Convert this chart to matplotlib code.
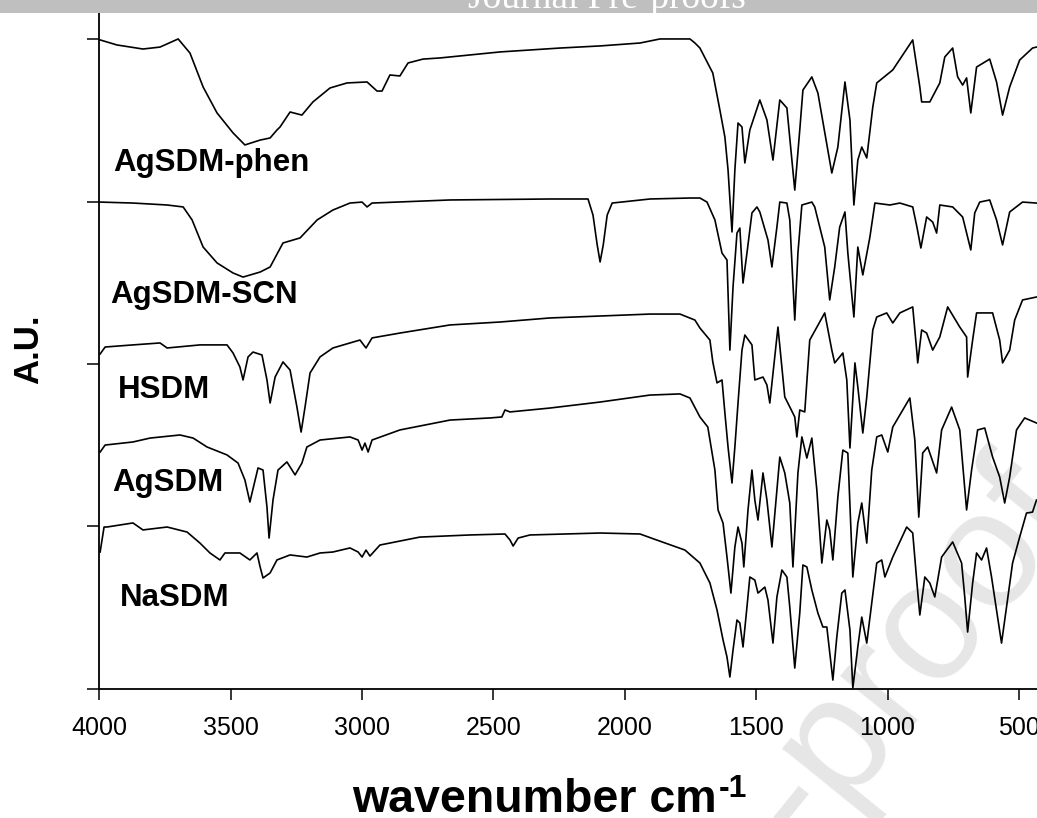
import numpy as np
import matplotlib
matplotlib.use("Agg")
import matplotlib.pyplot as plt
from matplotlib.patches import Rectangle

plt.rcParams['font.family'] = ['Liberation Sans', 'DejaVu Sans']

# FTIR spectra (wavenumber cm-1, stacked arbitrary units)
phen_wn = [3997, 3933, 3834, 3769, 3700, 3655, 3605, 3552, 3491, 3446, 3388, 3350, 3324, 3312,
           3274, 3229, 3187, 3122, 3057, 2981, 2943, 2924, 2894, 2856, 2825, 2768, 2703, 2475,
           2247, 2094, 1942, 1866, 1752, 1733, 1714, 1665, 1638, 1619, 1607, 1592, 1581, 1569,
           1554, 1543, 1524, 1486, 1459, 1436, 1410, 1383, 1353, 1334, 1322, 1288, 1265, 1212,
           1189, 1162, 1143, 1128, 1113, 1098, 1079, 1056, 1041, 980, 904, 877, 870, 839, 801,
           782, 752, 733, 714, 699, 683, 661, 611, 585, 562, 535, 497, 448, 433]
phen_au = [3.996, 3.965, 3.94, 3.952, 4.002, 3.915, 3.706, 3.546, 3.423, 3.349, 3.379, 3.392, 3.441, 3.46,
           3.552, 3.533, 3.614, 3.70, 3.731, 3.737, 3.681, 3.681, 3.78, 3.774, 3.854, 3.878, 3.885, 3.922,
           3.946, 3.959, 3.977, 4.002, 4.002, 3.977, 3.946, 3.792, 3.564, 3.398, 3.195, 2.813, 3.195, 3.484,
           3.46, 3.238, 3.441, 3.626, 3.503, 3.256, 3.626, 3.577, 3.071, 3.441, 3.687, 3.768, 3.669, 3.176,
           3.336, 3.737, 3.503, 2.979, 3.256, 3.336, 3.269, 3.583, 3.731, 3.811, 3.996, 3.706, 3.614, 3.614, 3.731,
           3.891, 3.946, 3.768, 3.718, 3.762, 3.546, 3.829, 3.878, 3.737, 3.533, 3.706, 3.872, 3.946, 3.952]

scn_wn = [3997, 3872, 3742, 3681, 3647, 3605, 3552, 3491, 3453, 3388, 3350, 3301, 3236, 3171, 3111,
          3046, 3000, 2981, 2962, 2665, 2285, 2140, 2121, 2105, 2094, 2082, 2067, 2048, 1904, 1752,
          1714, 1687, 1657, 1630, 1611, 1600, 1588, 1573, 1562, 1550, 1535, 1516, 1497, 1486, 1455,
          1440, 1421, 1410, 1383, 1372, 1353, 1341, 1326, 1288, 1277, 1239, 1220, 1201, 1182, 1162,
          1151, 1128, 1113, 1094, 1067, 1048, 991, 953, 904, 888, 873, 851, 828, 813, 801, 752, 714,
          683, 668, 649, 611, 585, 562, 535, 486, 433]
scn_au = [2.997, 2.991, 2.979, 2.967, 2.887, 2.72, 2.622, 2.56, 2.535, 2.566, 2.597, 2.745, 2.776, 2.887, 2.948,
          2.991, 2.997, 2.967, 2.991, 3.01, 3.016, 3.016, 2.917, 2.733, 2.628, 2.733, 2.917, 2.991, 3.016, 3.022,
          3.022, 2.997, 2.887, 2.683, 2.64, 2.085, 2.474, 2.806, 2.837, 2.498, 2.683, 2.93, 2.967, 2.936, 2.763,
          2.597, 2.843, 2.997, 2.991, 2.887, 2.27, 2.683, 2.979, 2.997, 2.967, 2.72, 2.394, 2.597, 2.843, 2.936,
          2.683, 2.289, 2.72, 2.548, 2.782, 2.991, 2.979, 2.991, 2.967, 2.843, 2.714, 2.905, 2.874, 2.806, 2.979,
          2.967, 2.905, 2.702, 2.93, 2.997, 3.01, 2.887, 2.733, 2.936, 2.997, 2.991]

hsdm_wn = [3997, 3978, 3872, 3769, 3742, 3617, 3514, 3491, 3465, 3453, 3434, 3415, 3381, 3362, 3350,
           3331, 3301, 3274, 3248, 3232, 3217, 3198, 3160, 3111, 3046, 3008, 2985, 2962, 2856, 2665,
           2475, 2285, 2094, 1904, 1790, 1733, 1714, 1676, 1665, 1649, 1630, 1619, 1607, 1592, 1581,
           1569, 1554, 1543, 1516, 1505, 1474, 1459, 1448, 1417, 1391, 1372, 1353, 1345, 1334, 1315,
           1296, 1239, 1212, 1201, 1170, 1155, 1143, 1124, 1113, 1094, 1079, 1056, 1041, 1003, 980,
           953, 904, 888, 885, 870, 851, 828, 801, 771, 725, 699, 695, 676, 661, 600, 573, 562, 535,
           516, 486, 433]
hsdm_au = [2.061, 2.104, 2.117, 2.129, 2.098, 2.117, 2.117, 2.067, 1.981, 1.901, 2.043, 2.073, 2.055, 1.901, 1.759,
           1.919, 2.012, 1.962, 1.735, 1.58, 1.735, 1.944, 2.043, 2.098, 2.129, 2.147, 2.098, 2.16, 2.19, 2.24,
           2.258, 2.283, 2.295, 2.307, 2.307, 2.27, 2.221, 2.147, 2.012, 1.883, 1.901, 1.698, 1.488, 1.266, 1.488,
           1.759, 2.085, 2.178, 2.117, 1.901, 1.919, 1.87, 1.759, 2.227, 1.796, 1.735, 1.673, 1.55, 1.716, 1.704,
           2.147, 2.314, 2.085, 2.006, 2.067, 1.901, 1.482, 2.006, 1.858, 1.574, 1.796, 2.209, 2.289, 2.314, 2.252,
           2.314, 2.351, 2.067, 2.006, 2.209, 2.19, 2.085, 2.166, 2.351, 2.227, 2.166, 1.919, 2.147, 2.314, 2.314,
           2.147, 2.006, 2.085, 2.27, 2.394, 2.412]

agsdm_wn = [3997, 3978, 3872, 3807, 3693, 3643, 3590, 3514, 3472, 3446, 3427, 3407, 3396, 3377, 3362,
            3354, 3339, 3320, 3286, 3255, 3229, 3210, 3160, 3046, 3015, 3000, 2989, 2977, 2962, 2856,
            2665, 2513, 2468, 2456, 2437, 2285, 2094, 1904, 1790, 1752, 1714, 1684, 1657, 1645, 1626,
            1611, 1596, 1581, 1569, 1554, 1547, 1531, 1516, 1505, 1493, 1474, 1459, 1440, 1410, 1391,
            1372, 1360, 1341, 1326, 1307, 1288, 1269, 1250, 1231, 1220, 1208, 1189, 1170, 1151, 1132,
            1113, 1098, 1079, 1060, 1041, 1022, 999, 980, 915, 896, 881, 866, 847, 813, 794, 756, 725,
            699, 680, 657, 630, 600, 573, 554, 535, 509, 478, 433]
agsdm_au = [1.457, 1.5, 1.519, 1.543, 1.562, 1.543, 1.488, 1.439, 1.389, 1.285, 1.149, 1.285, 1.359, 1.346, 1.118,
            0.927, 1.161, 1.346, 1.396, 1.316, 1.389, 1.488, 1.531, 1.55, 1.531, 1.469, 1.512, 1.457, 1.531, 1.593,
            1.654, 1.667, 1.673, 1.716, 1.704, 1.728, 1.765, 1.808, 1.815, 1.79, 1.673, 1.611, 1.346, 1.1, 1.019,
            0.81, 0.588, 0.872, 0.995, 0.896, 0.749, 1.1, 1.346, 1.161, 1.038, 1.328, 1.161, 0.872, 1.426, 1.328,
            1.143, 0.749, 1.328, 1.55, 1.42, 1.543, 1.223, 0.773, 1.038, 0.976, 0.792, 1.18, 1.469, 1.451, 0.687,
            1.019, 1.143, 0.896, 1.346, 1.55, 1.562, 1.457, 1.611, 1.79, 1.531, 1.056, 1.451, 1.488, 1.328, 1.593,
            1.734, 1.593, 1.1, 1.346, 1.593, 1.605, 1.426, 1.303, 1.143, 1.303, 1.593, 1.667, 1.636]

nasdm_wn = [3997, 3982, 3971, 3872, 3834, 3742, 3666, 3617, 3579, 3541, 3522, 3465, 3427, 3400, 3388,
            3377, 3350, 3324, 3274, 3210, 3160, 3111, 3046, 3015, 3000, 2985, 2970, 2932, 2780, 2589,
            2456, 2437, 2425, 2406, 2361, 2094, 1942, 1889, 1771, 1714, 1676, 1649, 1626, 1611, 1600,
            1588, 1573, 1562, 1550, 1535, 1524, 1505, 1493, 1467, 1455, 1436, 1421, 1402, 1383, 1372,
            1353, 1334, 1322, 1307, 1288, 1265, 1246, 1231, 1208, 1193, 1174, 1162, 1143, 1132, 1113,
            1098, 1079, 1060, 1041, 1022, 1010, 980, 927, 904, 888, 877, 858, 839, 820, 794, 752, 718,
            706, 695, 676, 661, 642, 623, 604, 581, 566, 547, 524, 497, 471, 448, 433]
nasdm_au = [0.841, 0.995, 0.995, 1.02, 0.977, 0.995, 0.964, 0.896, 0.835, 0.792, 0.835, 0.835, 0.792, 0.835, 0.749,
            0.681, 0.712, 0.792, 0.823, 0.81, 0.835, 0.841, 0.866, 0.841, 0.81, 0.853, 0.816, 0.884, 0.933, 0.946,
            0.952, 0.915, 0.878, 0.927, 0.946, 0.958, 0.952, 0.921, 0.853, 0.773, 0.65, 0.484, 0.299, 0.194, 0.071,
            0.237, 0.422, 0.404, 0.256, 0.502, 0.687, 0.668, 0.588, 0.625, 0.545, 0.28, 0.564, 0.73, 0.687, 0.502,
            0.126, 0.465, 0.761, 0.749, 0.607, 0.465, 0.379, 0.379, 0.052, 0.317, 0.588, 0.607, 0.36, 0.003, 0.256,
            0.44, 0.28, 0.527, 0.773, 0.792, 0.687, 0.81, 0.995, 0.958, 0.65, 0.453, 0.687, 0.65, 0.564, 0.81, 0.903, 0.773,
            0.564, 0.348, 0.65, 0.835, 0.792, 0.866, 0.687, 0.44, 0.28, 0.502, 0.773, 0.933, 1.081, 1.087, 1.161]

names = ['AgSDM-phen', 'AgSDM-SCN', 'HSDM', 'AgSDM', 'NaSDM']
label_x = [3947, 3959, 3929, 3951, 3921]
label_y = [3.238, 2.424, 1.839, 1.266, 0.558]
xticks = [4000, 3500, 3000, 2500, 2000, 1500, 1000, 500]

fig = plt.figure(figsize=(10.37, 8.18), dpi=100)
ax = fig.add_axes([0.0958, 0.1583, 1 - 0.0958, 1 - 0.1583])

for wn, au in [(phen_wn, phen_au), (scn_wn, scn_au), (hsdm_wn, hsdm_au),
               (agsdm_wn, agsdm_au), (nasdm_wn, nasdm_au)]:
    ax.plot(wn, au, color='black', lw=1.2, zorder=3)

for name, lx, ly in zip(names, label_x, label_y):
    ax.text(lx, ly, name, fontsize=22.5, fontweight='bold', ha='left', va='center')

ax.set_xlim(4000, 431)
ax.set_ylim(0, 4.242)
ax.set_xticks(xticks)
ax.set_xticklabels([str(t) for t in xticks])
ax.set_yticks([0, 1, 2, 3, 4])
ax.tick_params(axis='x', direction='out', length=7.7, width=1.1, labelsize=18, pad=12)
ax.tick_params(axis='y', direction='out', length=8.4, width=1.1, labelleft=False)
for s in ['top', 'right']:
    ax.spines[s].set_visible(False)
for s in ['left', 'bottom']:
    ax.spines[s].set_linewidth(1.3)
ax.patch.set_visible(False)

# diagonal watermark
ax.text(1.044, 0.369, 'Journal Pre-proof', transform=fig.transFigure, rotation=51,
        rotation_mode='anchor', ha='right', va='baseline', fontsize=120,
        color='#e6e6e6', zorder=0, clip_on=False)

# axis titles
fig.text(29 / 1037, 1 - 349 / 818, 'A.U.', rotation=90, fontsize=25, fontweight='bold',
         ha='center', va='center')
xl = fig.text(352 / 1037, 1 - 812 / 818, 'wavenumber cm', fontsize=33.5, fontweight='bold',
              ha='left', va='baseline')
fig.canvas.draw()
bb = xl.get_window_extent()
fig.text((bb.x1 + 2) / 1037, 1 - 797 / 818, '-1', fontsize=23, fontweight='bold',
         ha='left', va='baseline')

# top banner
fig.patches.append(Rectangle((0, 1 - 12.7 / 818), 1, 12.7 / 818, transform=fig.transFigure,
                             facecolor='#bfbfbf', edgecolor='none', zorder=10))
fig.text(468 / 1037, 1 - 7.5 / 818, 'Journal Pre-proofs', fontsize=27, color='white',
         family=['Liberation Serif', 'DejaVu Serif'], ha='left', va='baseline', zorder=11)

fig.savefig('out.png', dpi=100)
